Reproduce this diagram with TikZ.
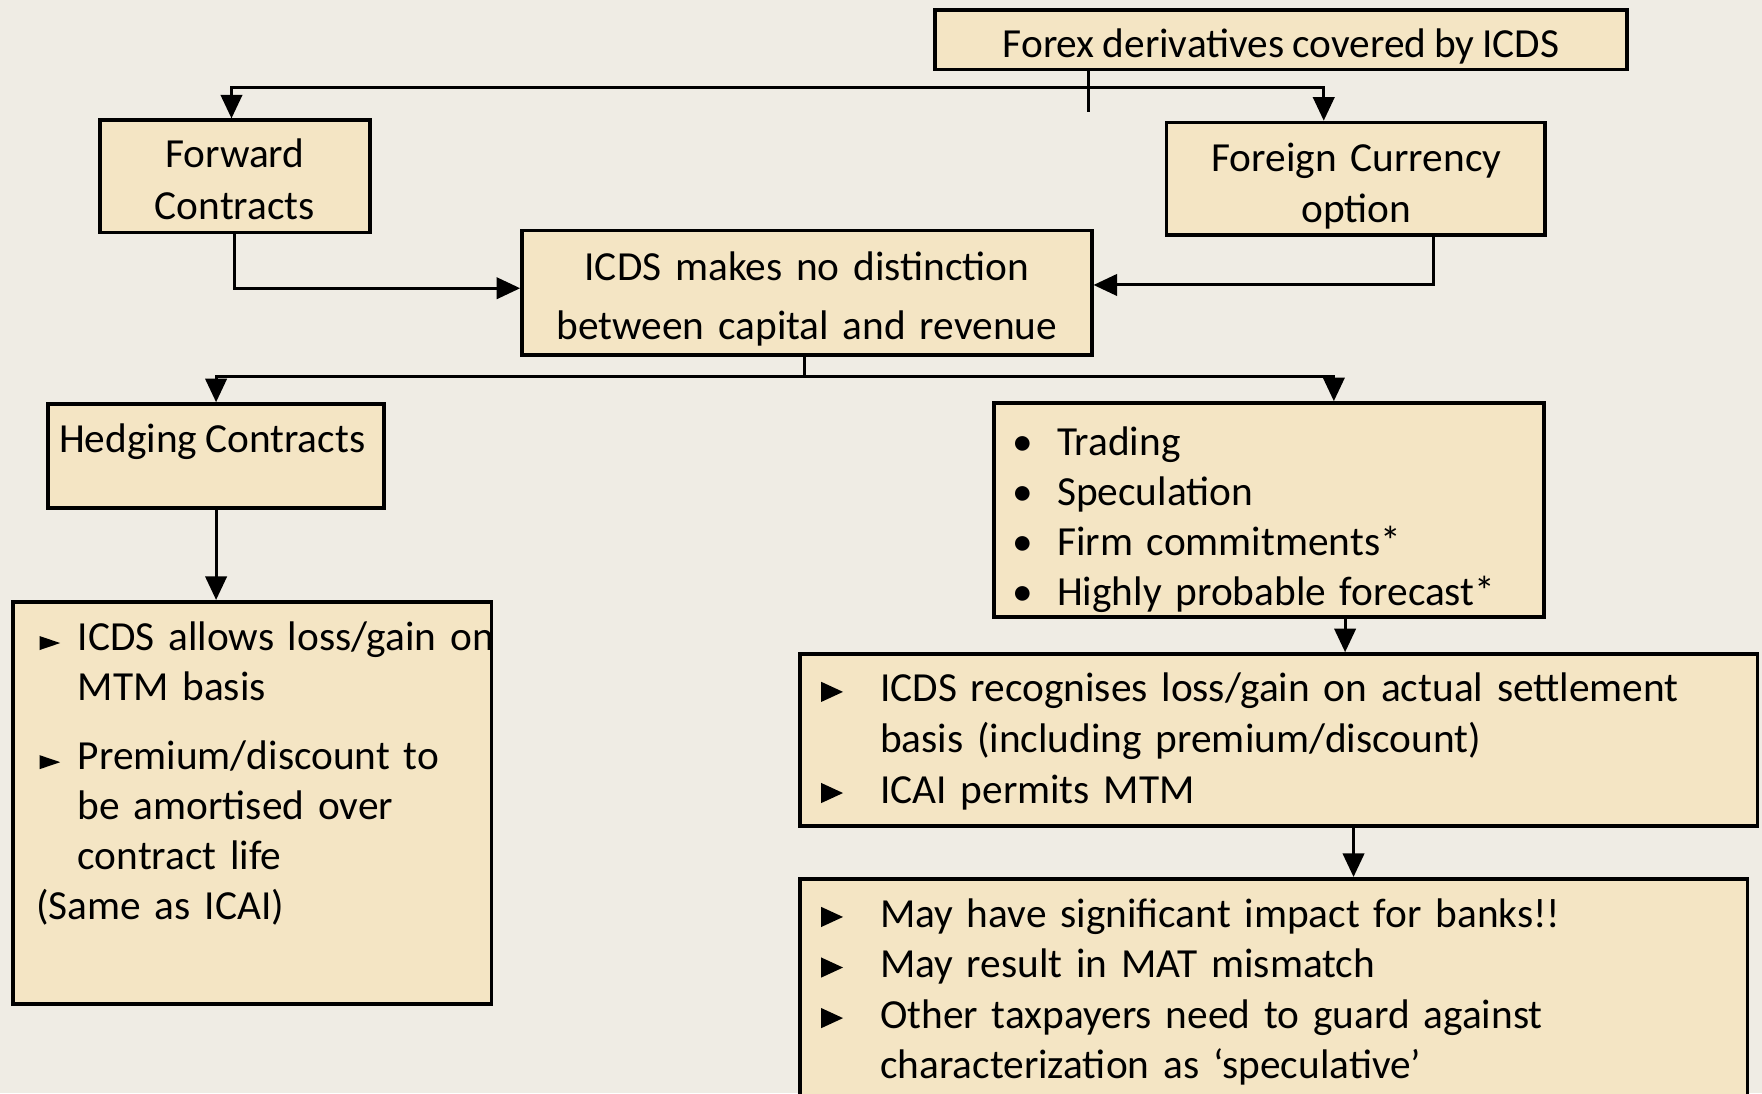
\documentclass[tikz,border=0pt]{standalone}
\usepackage{fontspec}
\setmainfont[WordSpace=0.85]{Carlito}
\usetikzlibrary{arrows.meta}

\definecolor{pagebg}{RGB}{239,236,228}
\definecolor{boxfill}{RGB}{244,229,196}

% list markers: small right-pointing triangles sitting on the baseline
\newcommand\smalltri{\tikz[baseline=0pt]\fill (0pt,0pt) -- (0pt,12.5pt) -- (18.4pt,6.25pt) -- cycle;}
\newcommand\bigtri{\tikz[baseline=0pt]\fill (0pt,0pt) -- (0pt,18pt) -- (19.5pt,9pt) -- cycle;}
% marker hung into the left margin of a line
\newcommand\hang[2]{\leavevmode\llap{#1\hspace{#2}}}
\newcommand\dotitem{\leavevmode\llap{\makebox[61pt]{•}}}

\begin{document}
\begin{tikzpicture}[x=1pt,y=-1pt,
  box/.style={draw=black, line width=3.2pt, fill=boxfill, inner sep=0pt},
  txt/.style={inner sep=0pt, font=\fontsize{36.8}{#1}\selectfont},
  txt/.default=45,
  link/.style={line width=2.7pt, line join=miter},
  arr/.style={link, -{Triangle[length=21pt,width=19pt]}},
  arrs/.style={link, {Triangle[length=21pt,width=19pt]}-{Triangle[length=21pt,width=19pt]}}]

\useasboundingbox (0,0) rectangle (1568,973);
\clip (0,0) rectangle (1568,973);
\fill[pagebg] (0,0) rectangle (1568,973);

% ---------- boxes ----------
\node[box, minimum width=616pt, minimum height=53pt]  (top)  at (1140,35.5)  {};
\node[box, minimum width=240pt, minimum height=100pt] (fwd)  at (209,157)    {};
\node[box, minimum width=337pt, minimum height=100pt] (opt)  at (1206.5,159) {};
\node[box, minimum width=507pt, minimum height=111pt] (icds) at (718,260.5)  {};
\node[box, minimum width=299pt, minimum height=92.5pt] (hed) at (192.3,405.8) {};
\node[box, minimum width=489pt, minimum height=190.4pt] (bul) at (1129.3,453.8) {};
\node[box, minimum width=426pt, minimum height=358pt] (lb)   at (224.5,714.5) {};
\node[box, minimum width=852pt, minimum height=153pt] (rm)   at (1138,658.5)  {};
\node[box, minimum width=843pt, minimum height=228pt] (rb)   at (1133.5,896)  {};

% ---------- texts ----------
\node[txt, anchor=base] (ttop) at (1140,51) {Forex derivatives covered by ICDS};
\node[txt=46, anchor=base, text width=240pt, align=center] (tfwd) at (209,149)
  {Forward\\Contracts};
\node[txt, anchor=base, text width=337pt, align=center] (topt) at (1207,153)
  {Foreign Currency\\option};
\node[txt=52, anchor=base, text width=507pt, align=center] (ticds) at (718,250)
  {ICDS makes no distinction\\between capital and revenue};
\node[txt, anchor=base west] (thed) at (52.5,403) {Hedging Contracts};
\node[txt=44.7, anchor=base west, text width=420pt, align=left] (tbul) at (940.6,405)
  {\dotitem Trading\\
   \dotitem Speculation\\
   \dotitem Firm commitments*\\
   \dotitem Highly probable forecast*};
\node[txt=44.5, anchor=base west, text width=400pt, align=left] (tlb) at (69,578.5)
  {\hang{\smalltri}{15.6pt}ICDS allows loss/gain on\\
   MTM basis\\[17pt]
   \hang{\smalltri}{15.6pt}Premium/discount to\\
   be amortised over\\
   contract life\\
   \hspace*{-37pt}(Same as ICAI)};
\node[txt, anchor=base west, text width=780pt, align=left] (trm) at (783,624.7)
  {\hang{\bigtri}{33pt}ICDS recognises loss/gain on actual settlement\\
   basis (including premium/discount)\\
   \hang{\bigtri}{33pt}ICAI permits MTM};
\node[txt, anchor=base west, text width=770pt, align=left] (trb) at (783,825)
  {\hang{\bigtri}{33pt}May have significant impact for banks!!\\
   \hang{\bigtri}{33pt}May result in MAT mismatch\\
   \hang{\bigtri}{33pt}Other taxpayers need to guard against\\
   characterization as ‘speculative’};

% ---------- connectors ----------
\coordinate (jtop) at (968.5,78);
\coordinate (stub) at (968.5,100);
\coordinate (afwd) at (206,78);
\coordinate (aopt) at (1178,78);
\draw[link] (top.south -| jtop) -- (stub);
\draw[arrs] (fwd.north -| afwd) |- (jtop) -| (opt.north -| aopt);

\coordinate (hfwd) at (209,256.5);
\draw[arr] (fwd.south -| hfwd) |- (icds.west |- hfwd);
\coordinate (hopt) at (1276,253.6);
\draw[arr] (opt.south -| hopt) |- (icds.east |- hopt);

\coordinate (jmid) at (716,335);
\coordinate (abul) at (1187,335);
\draw[link] (icds.south -| jmid) -- (jmid);
\draw[arrs] (hed.north) |- (jmid) -| (bul.north -| abul);

\draw[arr] (hed.south) -- (lb.north -| hed.south);
\coordinate (arm) at (1197,0);
\draw[arr] (bul.south -| arm) -- (rm.north -| arm);
\coordinate (arb) at (1204.5,0);
\draw[arr] (rm.south -| arb) -- (rb.north -| arb);

\end{tikzpicture}
\end{document}
